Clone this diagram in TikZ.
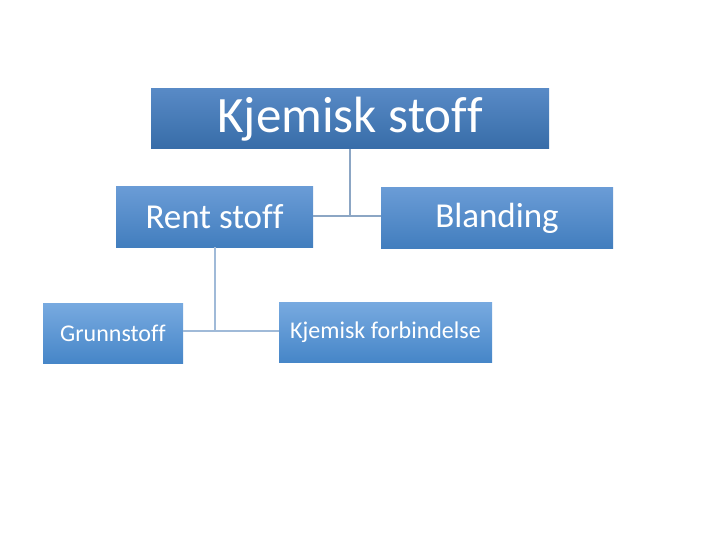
\documentclass[tikz,border=0pt]{standalone}
\usepackage{fontspec}
\setmainfont{Carlito}[Ligatures=NoCommon]
\usetikzlibrary{shadings}
\definecolor{aTop}{RGB}{88,138,198}
\definecolor{aBot}{RGB}{55,108,168}
\definecolor{bTop}{RGB}{106,156,214}
\definecolor{bBot}{RGB}{66,126,190}
\definecolor{cTop}{RGB}{120,170,224}
\definecolor{cBot}{RGB}{70,134,200}
\definecolor{lineA}{RGB}{140,166,196}
\definecolor{lineB}{RGB}{160,186,216}
\newcommand{\nolig}{\kern0pt\relax}
\tikzset{
  box/.style={draw=none,inner sep=0pt,text=white,align=center},
  lvlA/.style={box,top color=aTop,bottom color=aBot},
  lvlB/.style={box,top color=bTop,bottom color=bBot},
  lvlC/.style={box,top color=cTop,bottom color=cBot},
  conn/.style={line width=2pt}
}
\begin{document}
\begin{tikzpicture}[x=1pt,y=-1pt]
\useasboundingbox (0,0) rectangle (720,540);
\node[lvlA,minimum width=398pt,minimum height=60pt,font=\fontsize{51}{55}\selectfont] (top) at (350,119) {Kjemisk stof\nolig f};
\node[lvlB,minimum width=197pt,minimum height=60pt,font=\fontsize{35}{40}\selectfont] (rent) at (214.5,217) {Rent stof\nolig f};
\node[lvlB,minimum width=232pt,minimum height=60pt,font=\fontsize{35}{40}\selectfont] (bland) at (497,218) {Blanding};
\node[lvlC,minimum width=140pt,minimum height=60pt,font=\fontsize{24}{28}\selectfont] (grunn) at (113,333) {Grunnstof\nolig f};
\node[lvlC,minimum width=213pt,minimum height=60pt,font=\fontsize{24}{28}\selectfont] (kf) at (385.5,332) {Kjemisk forbindelse};
\coordinate (j1) at (350,216);
\coordinate (j2) at (215,331);
\draw[conn,lineA] (top.south) -- (j1);
\draw[conn,lineA] (rent.east |- j1) -- (bland.west |- j1);
\draw[conn,lineB] (rent.south -| j2) -- (j2);
\draw[conn,lineB] (grunn.east |- j2) -- (kf.west |- j2);
\end{tikzpicture}
\end{document}
